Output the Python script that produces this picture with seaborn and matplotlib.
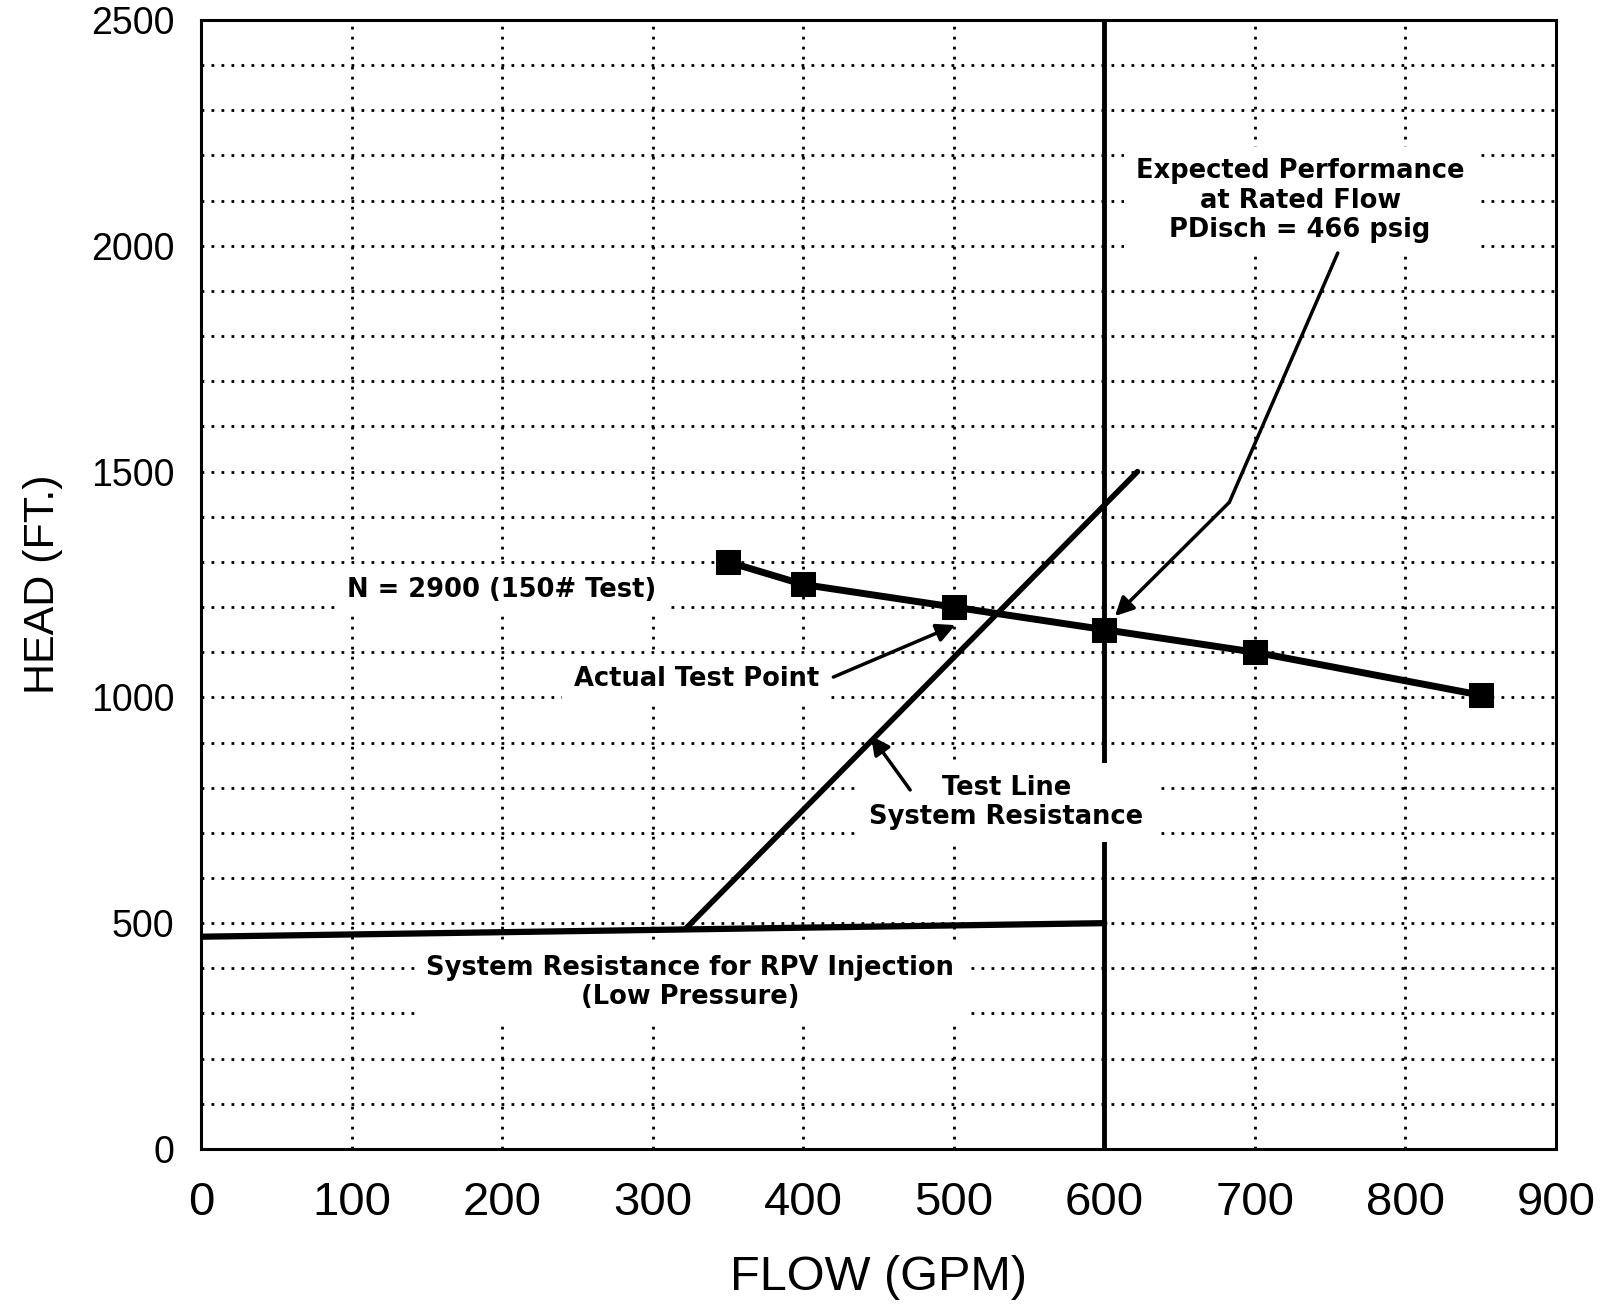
import numpy as np
import pandas as pd
import seaborn as sns
import matplotlib.pyplot as plt
from matplotlib.ticker import MultipleLocator

# pump curve N = 2900
pump_flow = [350, 400, 500, 600, 700, 850]
pump_head = [1300, 1250, 1200, 1150, 1100, 1005]

# system resistance for RPV injection (low pressure)
rpv_flow = [0, 600]
rpv_head = [470, 500]

# test line system resistance
test_flow = [322, 622]
test_head = [488, 1500]

# rated flow line
rated_flow = [600, 600]
rated_head = [0, 2500]

x_ticks = [0, 100, 200, 300, 400, 500, 600, 700, 800, 900]
y_ticks = [0, 500, 1000, 1500, 2000, 2500]

sns.set_style("white")
plt.rcParams['font.family'] = ['Liberation Sans', 'DejaVu Sans']
plt.rcParams['text.color'] = 'black'
plt.rcParams['axes.labelcolor'] = 'black'
plt.rcParams['xtick.color'] = 'black'
plt.rcParams['ytick.color'] = 'black'

fig = plt.figure(figsize=(16.08, 13.08), dpi=100)
ax = fig.add_axes([0.125, 0.1216, 0.8427, 0.8631])

# curves
sns.lineplot(x=pump_flow, y=pump_head, color='black', lw=5, marker='s', markersize=17,
             markeredgecolor='black', estimator=None, sort=False, ax=ax, zorder=3)
sns.lineplot(x=rpv_flow, y=rpv_head, color='black', lw=4.5, estimator=None, sort=False, ax=ax, zorder=3)
sns.lineplot(x=test_flow, y=test_head, color='black', lw=4, estimator=None, sort=False, ax=ax, zorder=3)
sns.lineplot(x=rated_flow, y=rated_head, color='black', lw=3.5, estimator=None, sort=False, ax=ax, zorder=3)

# axes
ax.set_xlim(0, 900)
ax.set_ylim(0, 2500)
ax.set_xticks(x_ticks)
ax.set_yticks(y_ticks)
ax.yaxis.set_minor_locator(MultipleLocator(100))
ax.grid(which='both', axis='y', color='black', ls=(0, (1, 2.6)), lw=2, zorder=1)
ax.grid(which='major', axis='x', color='black', ls=(0, (1, 2.6)), lw=2, zorder=1)
ax.set_axisbelow(True)
for s in ax.spines.values():
    s.set_color('black')
    s.set_linewidth(2.2)
ax.tick_params(axis='x', which='major', direction='out', length=11, width=2, pad=12, labelsize=34)
ax.tick_params(axis='y', which='major', direction='out', length=8, width=2, pad=11, labelsize=27)
ax.tick_params(which='minor', length=0)
ax.set_xlabel('FLOW (GPM)', fontsize=35, labelpad=22)
ax.set_ylabel('HEAD (FT.)', fontsize=31, labelpad=20)

box = dict(boxstyle='square,pad=0.45', fc='white', ec='none')
txt = dict(fontsize=18.5, fontweight='bold', family=['DejaVu Sans'], zorder=4, bbox=box)
arrow = dict(arrowstyle='-|>', color='black', lw=2.5, mutation_scale=28, shrinkA=0, shrinkB=0)

# annotations
ax.text(730, 2100, 'Expected Performance\nat Rated Flow\nPDisch = 466 psig',
        ha='center', va='center', linespacing=1.17, **txt)
sns.lineplot(x=[755, 683], y=[1984, 1432], color='black', lw=2.5, estimator=None, sort=False, ax=ax, zorder=5)
ax.annotate('', xy=(607, 1180), xytext=(683, 1432), arrowprops=arrow, zorder=5)

ax.text(97, 1238, 'N = 2900 (150# Test)', ha='left', va='center', **txt)

ax.text(329, 1041, 'Actual Test Point', ha='center', va='center', **txt)
ax.annotate('', xy=(501, 1160), xytext=(420, 1045), arrowprops=arrow, zorder=5)

ax.text(535, 767, 'Test Line\nSystem Resistance', ha='center', va='center', linespacing=1.17, **txt)
ax.annotate('', xy=(445, 915), xytext=(471, 795), arrowprops=arrow, zorder=5)

ax.text(325, 368, 'System Resistance for RPV Injection\n(Low Pressure)', ha='center', va='center',
        linespacing=1.17, **txt)

fig.savefig('out.png', dpi=100)
